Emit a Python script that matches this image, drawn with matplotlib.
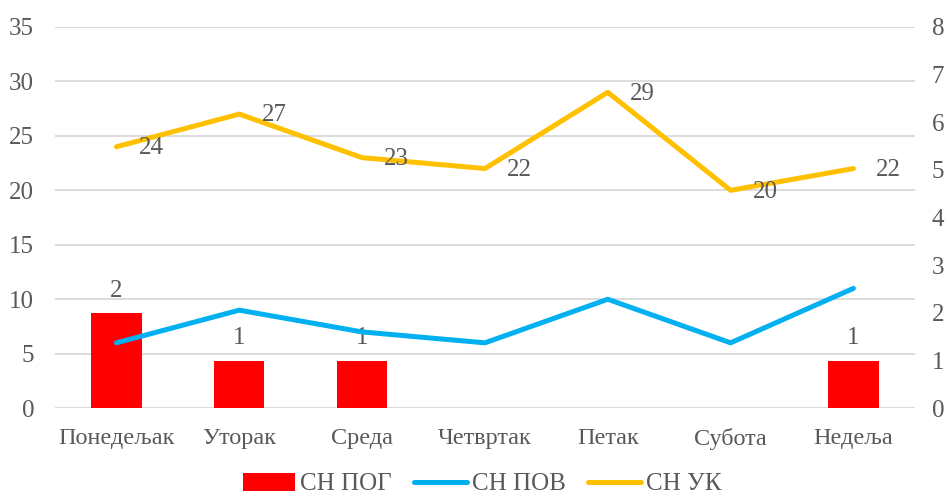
import matplotlib.pyplot as plt
import numpy as np

plt.rcParams["font.family"] = ["Liberation Serif", "DejaVu Serif"]

days = ["Понедељак", "Уторак", "Среда", "Четвртак", "Петак", "Субота", "Недеља"]
sn_pog = [2, 1, 1, 0, 0, 0, 1]          # bars, right axis
sn_pov = [6, 9, 7, 6, 10, 6, 11]        # blue line, left axis
sn_uk = [24, 27, 23, 22, 29, 20, 22]    # yellow line, left axis

TEXT = "#595959"
GRID = "#d9d9d9"
FS = 18

fig = plt.figure(figsize=(9.49, 4.99), dpi=100)
ax = fig.add_axes([0.058, 0.182, 0.906, 0.764])
ax2 = ax.twinx()

x = np.arange(len(days))

# bars on the secondary axis, drawn below the lines
ax2.set_zorder(1)
ax.set_zorder(2)
ax.patch.set_visible(False)

bars = ax2.bar(x, sn_pog, width=0.41, color="#ff0000", label="СН ПОГ")
for xi, v in zip(x, sn_pog):
    if v > 0:
        ax2.annotate(str(v), (xi, v), xytext=(0, 8), textcoords="offset points",
                     ha="center", va="bottom", fontsize=FS, color=TEXT)

ax.plot(x, sn_pov, color="#00b0f0", lw=3.6, solid_capstyle="round", label="СН ПОВ")
ax.plot(x, sn_uk, color="#ffc000", lw=3.6, solid_capstyle="round", label="СН УК")
for xi, v in zip(x, sn_uk):
    ax.annotate(str(v), (xi, v), xytext=(16, -1), textcoords="offset points",
                ha="left", va="center", fontsize=FS, color=TEXT)

ax.set_xlim(-0.5, len(days) - 0.5)
ax.set_ylim(0, 35)
ax.set_yticks(range(0, 36, 5))
ax2.set_ylim(0, 8)
ax2.set_yticks(range(0, 9))

ax.set_xticks(x)
ax.set_xticklabels(days)

for a in (ax, ax2):
    for s in a.spines.values():
        s.set_visible(False)
    a.tick_params(length=0, labelsize=FS, colors=TEXT)
ax.tick_params(axis="x", labelsize=17.5, pad=14)
ax.tick_params(axis="y", pad=15)
ax2.tick_params(axis="y", pad=12)

# horizontal gridlines on ax2 so they sit behind the bars
for t in range(0, 36, 5):
    ax2.axhline(t * 8 / 35, color=GRID, lw=1.3, zorder=0)

handles = [bars] + ax.get_lines()[:2]
labels = ["СН ПОГ", "СН ПОВ", "СН УК"]
fig.legend(handles, labels, loc="lower center", ncol=3, frameon=False,
           fontsize=FS, labelcolor=TEXT, bbox_to_anchor=(0.508, -0.038),
           handlelength=2.1, handleheight=0.75, handletextpad=0.2,
           columnspacing=0.9)

fig.savefig("out.png", dpi=100)
